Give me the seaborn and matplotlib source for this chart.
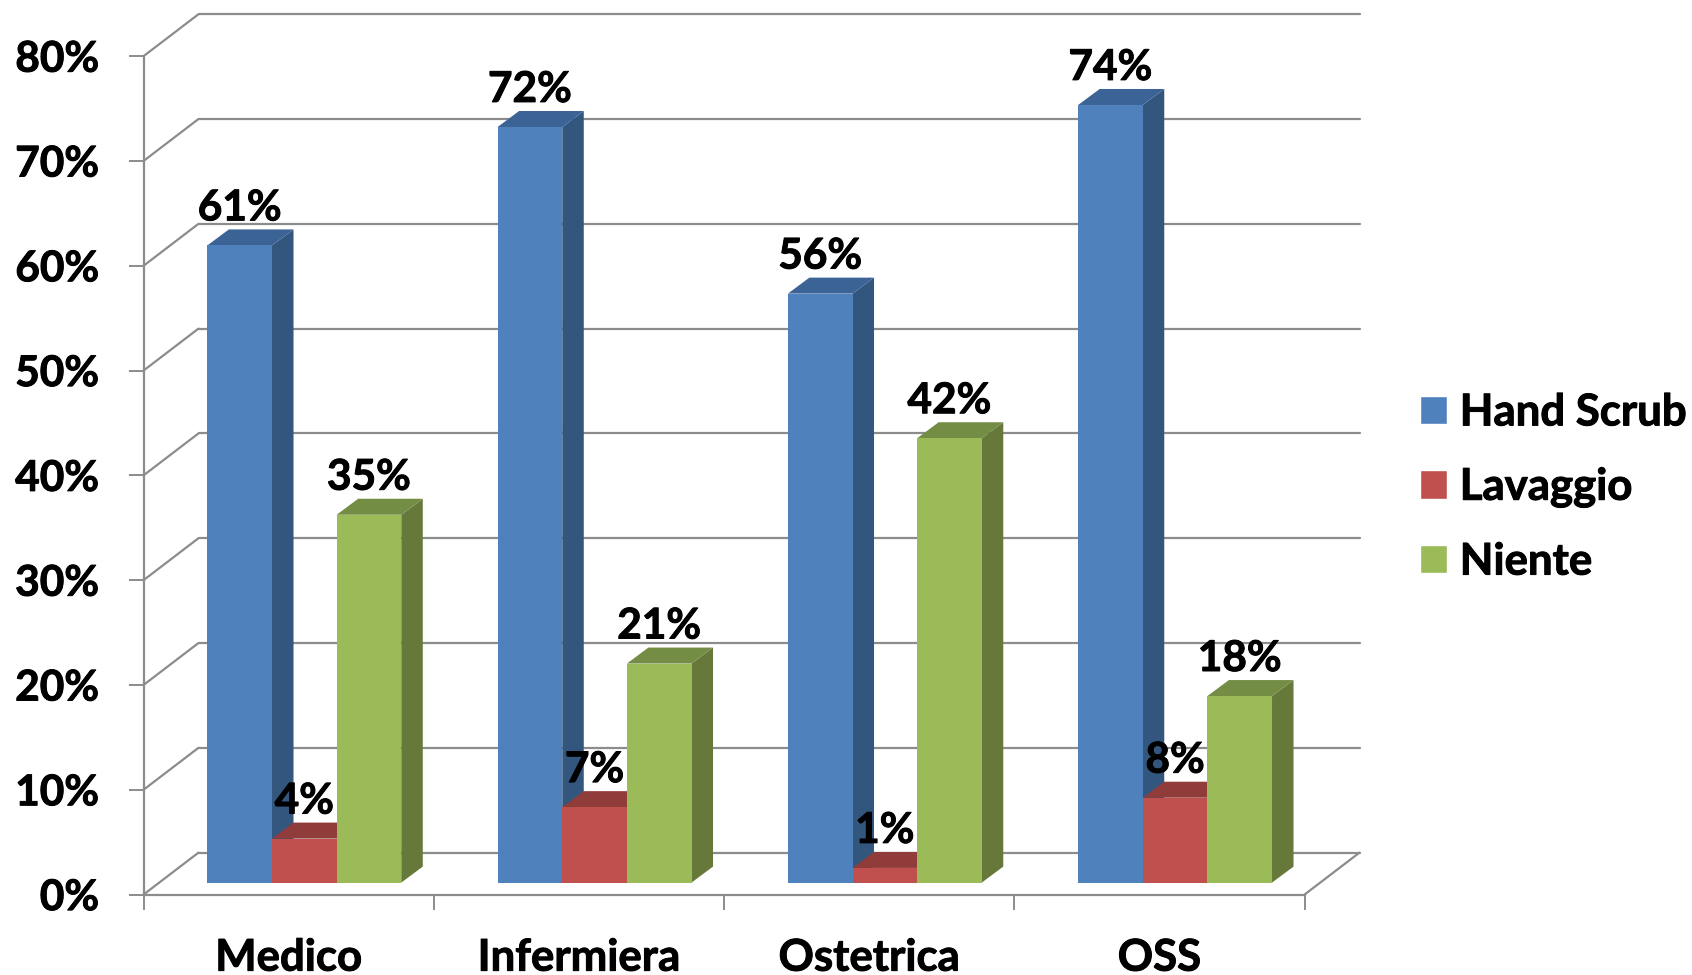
import numpy as np
import pandas as pd
import matplotlib
matplotlib.use("Agg")
import matplotlib.pyplot as plt
import matplotlib.patheffects as pe
from matplotlib.patches import Polygon
from matplotlib.lines import Line2D
from matplotlib.transforms import IdentityTransform
from matplotlib.ticker import FixedLocator, FixedFormatter
import seaborn as sns

categories = ["Medico", "Infermiera", "Ostetrica", "OSS"]
series_names = ["Hand Scrub", "Lavaggio", "Niente"]
hand_scrub = [0.608, 0.721, 0.562, 0.742]
lavaggio = [0.042, 0.072, 0.014, 0.081]
niente = [0.351, 0.209, 0.424, 0.178]
y_ticks = [0, 0.1, 0.2, 0.3, 0.4, 0.5, 0.6, 0.7, 0.8]
y_labels = ["0%", "10%", "20%", "30%", "40%", "50%", "60%", "70%", "80%"]

front_colors = ["#4F81BD", "#C0504D", "#9BBB59"]
side_colors = ["#33567F", "#8F3C3A", "#66783A"]
top_colors = ["#3B6396", "#8F3C3A", "#748D44"]
grid_color = "#8C8C8C"
FONT = ["Lato", "DejaVu Sans"]
FS_VALUE = 30.5
FS_LABEL = 31.5
HEAVY = [pe.withStroke(linewidth=0.7, foreground="black")]

sns.set_style("white")
plt.rcParams["font.family"] = FONT
plt.rcParams["font.weight"] = "bold"

W, H = 1692, 975
fig = plt.figure(figsize=(W / 100, H / 100), dpi=100, facecolor="white")


def make_axes(left, bottom_from_top, zorder):
    ax = fig.add_axes([left / W, (H - bottom_from_top) / H, 1161 / W, 838.4 / H])
    ax.set_zorder(zorder)
    ax.patch.set_visible(False)
    return ax


ax_back = make_axes(198.5, 852.6, 0)
ax_front = make_axes(143.5, 894.6, 1)
ax = make_axes(159.2, 882.6, 2)

df = pd.DataFrame({
    "category": np.repeat(categories, len(series_names)),
    "series": series_names * len(categories),
    "value": [v for trio in zip(hand_scrub, lavaggio, niente) for v in trio],
})

sns.barplot(data=df, x="category", y="value", hue="series", order=categories,
            hue_order=series_names, palette=front_colors, saturation=1,
            width=0.668, gap=0, dodge=True, errorbar=None, ax=ax)

for a in (ax, ax_front, ax_back):
    a.set_xlim(-0.5, 3.5)
    a.set_ylim(0, 0.8)

# back wall grid
ax_back.set_axis_off()
for t in y_ticks:
    ax_back.axhline(t, color=grid_color, lw=1.6, clip_on=False)

# front axes
for s in ("top", "right"):
    ax_front.spines[s].set_visible(False)
for s in ("left", "bottom"):
    ax_front.spines[s].set_color(grid_color)
    ax_front.spines[s].set_linewidth(1.6)
ax_front.set_yticks(y_ticks)
ax_front.set_yticklabels(y_labels)
ax_front.xaxis.set_major_locator(FixedLocator([-0.5, 0.5, 1.5, 2.5, 3.5]))
ax_front.xaxis.set_major_formatter(FixedFormatter([""] * 5))
ax_front.xaxis.set_minor_locator(FixedLocator([0, 1, 2, 3]))
ax_front.xaxis.set_minor_formatter(FixedFormatter(categories))
ax_front.tick_params(axis="y", which="major", left=True, length=10.5, width=1.4,
                     color=grid_color, pad=21.5, labelsize=FS_VALUE)
ax_front.tick_params(axis="x", which="major", bottom=True, length=10.5, width=1.4,
                     color=grid_color)
ax_front.tick_params(axis="x", which="minor", bottom=False, length=0, pad=31,
                     labelsize=FS_LABEL)
for lab in ax_front.get_xticklabels(minor=True) + ax_front.get_yticklabels():
    lab.set_fontweight("bold")
    lab.set_color("black")
    lab.set_path_effects(HEAVY)

# floor and wall diagonals between front axes and back wall
DX, DY = 55, 42
ident = IdentityTransform()
diag_points = [(-0.5, t) for t in y_ticks] + [(3.5, 0)]
for p in diag_points:
    x0, y0 = ax_front.transData.transform(p)
    ax_front.add_line(Line2D([x0, x0 + DX], [y0, y0 + DY], color=grid_color, lw=1.6,
                             transform=ident, clip_on=False))

# bars: depth faces derived from the drawn bars
ax.set_axis_off()
BX, BY = 21.5, 16
for i, cont in enumerate(ax.containers):
    for bar in cont:
        bar.set_zorder(3 + 2 * i)
        bar.set_linewidth(0)
        (x0, yb), (x1, yt) = ax.transData.transform(
            [(bar.get_x(), 0), (bar.get_x() + bar.get_width(), bar.get_height())])
        ax.add_patch(Polygon([(x1, yb), (x1 + BX, yb + BY), (x1 + BX, yt + BY), (x1, yt)],
                             closed=True, facecolor=side_colors[i], edgecolor="none",
                             transform=ident, clip_on=False, zorder=2 + 2 * i))
        ax.add_patch(Polygon([(x0, yt), (x1, yt), (x1 + BX, yt + BY), (x0 + BX, yt + BY)],
                             closed=True, facecolor=top_colors[i], edgecolor="none",
                             transform=ident, clip_on=False, zorder=2 + 2 * i))
    texts = ax.bar_label(cont, labels=[f"{b.get_height():.0%}" for b in cont],
                         padding=13, fontsize=FS_VALUE, fontweight="bold", color="black",
                         zorder=20)
    for t in texts:
        t.set_zorder(20)
        t.set_clip_on(False)
        t.set_path_effects(HEAVY)

ax.set_xlim(-0.5, 3.5)
ax.set_ylim(0, 0.8)

handles, labels = ax.get_legend_handles_labels()
leg = ax.legend(handles, labels, loc="center left",
                bbox_to_anchor=(1419.5 / W, (H - 487) / H), bbox_transform=fig.transFigure,
                frameon=False, fontsize=FS_LABEL, handlelength=0.62, handleheight=0.62,
                handletextpad=0.3, labelspacing=0.785, borderpad=0, borderaxespad=0)
for t in leg.get_texts():
    t.set_fontweight("bold")
    t.set_color("black")
    t.set_path_effects(HEAVY)
leg.set_zorder(30)

fig.savefig("out.png", dpi=100, facecolor="white")
